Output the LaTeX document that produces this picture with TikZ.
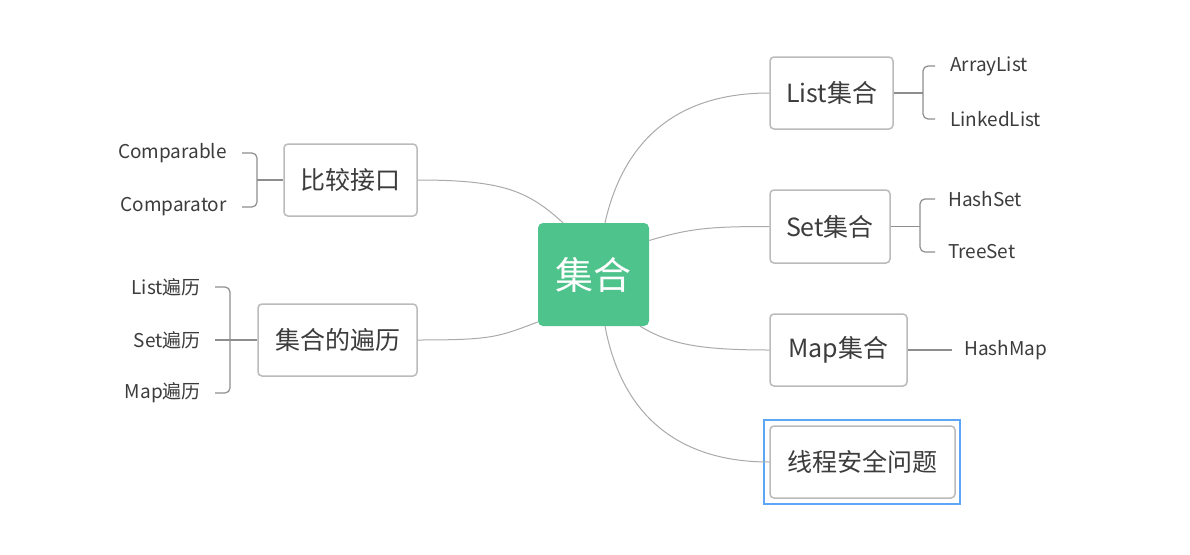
\documentclass[tikz,border=0pt]{standalone}
\usepackage{fontspec}
\setmainfont{Noto Sans CJK SC}
\definecolor{green1}{HTML}{4FC38C}
\definecolor{boxline}{HTML}{BBBBBB}
\definecolor{conn}{HTML}{AAAAAA}
\definecolor{brk}{HTML}{8E8E8E}
\definecolor{txt}{HTML}{3C3C3C}
\definecolor{sel}{HTML}{5BA7F5}
\tikzset{
  topic/.style={draw=boxline, line width=1.5pt, rounded corners=4pt, fill=white, text=txt, inner sep=0pt, font=\fontsize{25}{29}\selectfont},
  leafr/.style={anchor=west, inner sep=0pt, text=txt, font=\fontsize{19}{22}\selectfont},
  leafl/.style={anchor=east, inner sep=0pt, text=txt, font=\fontsize{19}{22}\selectfont},
  conn/.style={draw=conn, line width=1pt},
  brk/.style={draw=brk, line width=1.2pt, rounded corners=5pt},
}
\begin{document}
\begin{tikzpicture}[x=1pt,y=-1pt]
\path[use as bounding box, fill=white] (0,0) rectangle (1190,554);
% central
\node[fill=green1, rounded corners=5pt, minimum width=111pt, minimum height=103pt, inner sep=0pt, text=white, font=\fontsize{38}{42}\selectfont] (c) at (593.5,274.5) {集合};
% topics
\node[topic, minimum width=123pt, minimum height=72pt] (list) at (831.5,93) {List集合};
\node[topic, minimum width=120pt, minimum height=73pt] (set) at (830,226.5) {Set集合};
\node[topic, minimum width=137pt, minimum height=72pt] (map) at (838.5,350) {Map集合};
\node[topic, minimum width=185pt, minimum height=72pt] (thr) at (862.5,462) {线程安全问题};
\node[draw=sel, line width=2.5pt, minimum width=196pt, minimum height=84pt, inner sep=0pt] (thrsel) at (862,462) {};
\node[topic, minimum width=133pt, minimum height=72pt] (cmp) at (350.5,180) {比较接口};
\node[topic, minimum width=159pt, minimum height=72pt] (trv) at (337.5,340) {集合的遍历};
% leaves
\node[leafr] (al) at (950,66) {ArrayList};
\node[leafr] (ll) at (950,119) {LinkedList};
\node[leafr] (hs) at (948,199) {HashSet};
\node[leafr] (ts) at (948,252) {TreeSet};
\node[leafr] (hm) at (964,350) {HashMap};
\node[leafl] (cpa) at (227,153) {Comparable};
\node[leafl] (cpt) at (227,207) {Comparator};
\node[leafl] (lt) at (201,287) {List遍历};
\node[leafl] (st) at (201,340) {Set遍历};
\node[leafl] (mt) at (201,393) {Map遍历};
% main connectors
\draw[conn] ([xshift=11.5pt]c.north) .. controls +(18,-80) and +(-95,0) .. (list.west);
\draw[conn] ([yshift=34pt]c.east) .. controls +(40,-12) and +(-60,0) .. (set.west);
\draw[conn] ([xshift=46.5pt]c.south) .. controls +(30,18) and +(-70,0) .. (map.west);
\draw[conn] ([xshift=11.5pt]c.south) .. controls +(18,95) and +(-85,0) .. (thr.west);
\draw[conn] ([xshift=-30.5pt]c.north) .. controls +(-35,-32) and +(85,0) .. (cmp.east);
\draw[conn] ([yshift=-47.5pt]c.west) .. controls +(-40,15) and +(75,0) .. (trv.east);
% brackets
\coordinate (lb) at (923,93);
\draw[brk] (list.east) -- (lb);
\draw[brk] ([xshift=-15pt]al.west) -| (lb) |- ([xshift=-15pt]ll.west);
\coordinate (sb) at (920,226.5);
\draw[brk] (set.east) -- (sb);
\draw[brk] ([xshift=-13pt]hs.west) -| (sb) |- ([xshift=-13pt]ts.west);
\draw[brk] (map.east) -- ([xshift=-12pt]hm.west);
\coordinate (cb) at (257,180);
\draw[brk] (cmp.west) -- (cb);
\draw[brk] ([xshift=15pt]cpa.east) -| (cb) |- ([xshift=15pt]cpt.east);
\coordinate (tb) at (230,340);
\draw[brk] (trv.west) -- ([xshift=14pt]st.east);
\draw[brk] ([xshift=14pt]lt.east) -| (tb) |- ([xshift=14pt]mt.east);
\end{tikzpicture}
\end{document}
